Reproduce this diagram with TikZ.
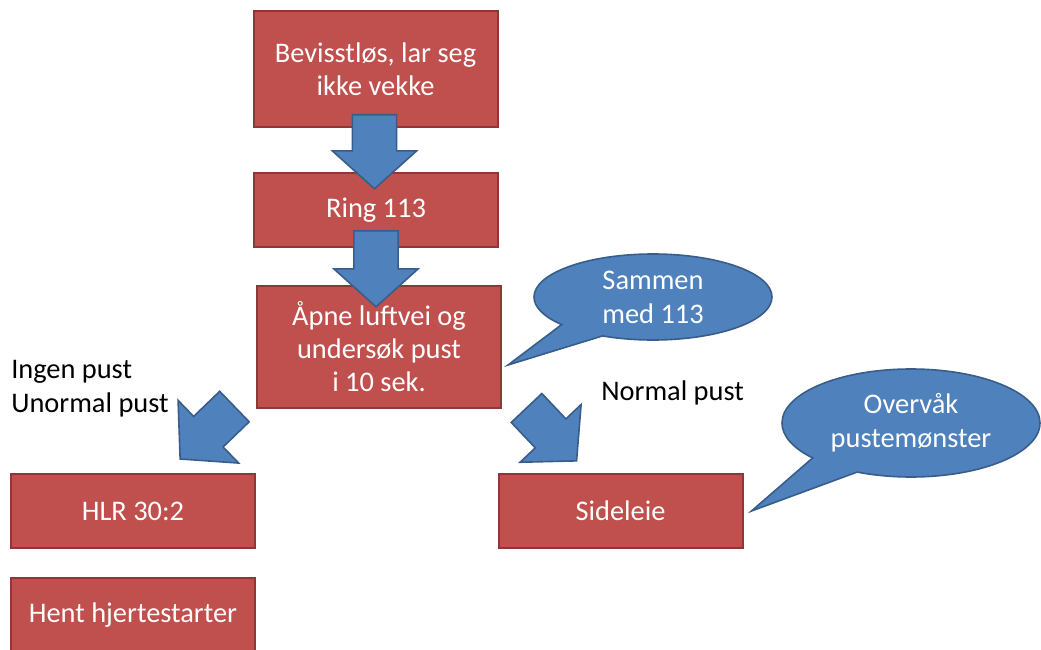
\documentclass[tikz,border=0pt]{standalone}
\usepackage{fontspec}
\setmainfont{Carlito}
\usepackage{xcolor}
\usetikzlibrary{shapes.arrows,shapes.callouts,calc}

\definecolor{boxred}{HTML}{C0504D}
\definecolor{boxedge}{HTML}{8C3836}
\definecolor{arrowblue}{HTML}{4F81BD}
\definecolor{arrowedge}{HTML}{385D8A}

\tikzset{
  box/.style={draw=boxedge, fill=boxred, line width=1.5pt, text=white, align=center,
    inner sep=0pt, minimum width=183pt, minimum height=55.5pt, font=\fontsize{21.3}{24.75}\selectfont},
  bluearrow/.style={single arrow, draw=arrowedge, fill=arrowblue, line width=1.2pt,
    inner xsep=0pt, inner ysep=16pt, single arrow head extend=15pt,
    single arrow tip angle=96, minimum height=56pt},
  bubble/.style={ellipse callout, draw=arrowedge, fill=arrowblue, line width=1.2pt,
    text=white, align=center, inner sep=0pt, callout pointer arc=25,
    font=\fontsize{21.3}{25.5}\selectfont},
  lbl/.style={align=left, inner sep=0pt, font=\fontsize{21.3}{25}\selectfont}
}

\begin{document}
\begin{tikzpicture}[x=0.75pt,y=-0.75pt]
  \useasboundingbox (0,0) rectangle (1041,649);
  % boxes
  \node[box, minimum height=87pt] (start) at (375.5,69) {Bevisstløs, lar seg\\ikke vekke};
  \node[box] (ring) at (376,210) {Ring 113};
  \node[box, minimum height=91.5pt] (airway) at (379,347) {Åpne luftvei og\\undersøk pust\\i 10 sek.};
  \node[box] (hlr) at (133,511) {HLR 30:2};
  \node[box] (aed) at (133,615) {Hent hjertestarter};
  \node[box] (recovery) at (620.5,511) {Sideleie};
  % block arrows
  \node[bluearrow, rotate=-90, anchor=tail, minimum height=55.5pt] (down1) at ($(start.south)+(-1,-14)$) {};
  \node[bluearrow, rotate=-90, anchor=tail, minimum height=57pt] (down2) at ($(ring.south)+(0,-18)$) {};
  \node[bluearrow, rotate=224, anchor=tail, inner ysep=15.3pt, single arrow head extend=16.8pt,
    minimum height=56.6pt] (toleft) at ($(airway.south west)+(-21,-3)$) {};
  \node[bluearrow, rotate=-46.6, anchor=tail, inner ysep=15.2pt, single arrow head extend=15.7pt,
    minimum height=54.6pt] (toright) at ($(airway.south east)+(24,-1.6)$) {};
  % labels
  \node[lbl, anchor=base west] (nobreath) at (11,412) {Ingen pust\\Unormal pust};
  \node[lbl, anchor=base west] (normal) at (601,400) {Normal pust};
  % callouts
  \node[bubble, minimum width=178.5pt, minimum height=64.5pt,
    callout absolute pointer={($(airway.east)+(6,18)$)}] (together) at (653,297) {Sammen\\med 113};
  \node[bubble, minimum width=193.5pt, minimum height=81pt,
    callout absolute pointer={($(recovery.east)+(8,0)$)}] (monitor) at (911,423) {Overvåk\\pustemønster};
\end{tikzpicture}
\end{document}
